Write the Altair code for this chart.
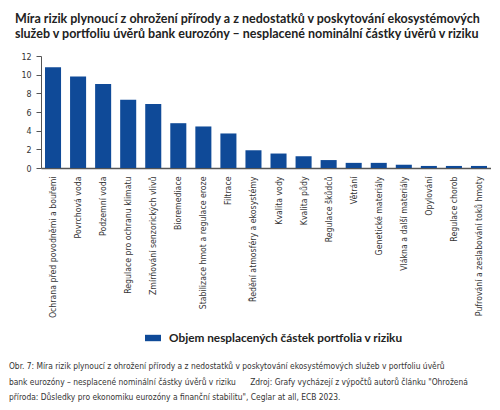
import altair as alt
import pandas as pd

categories = [
    "Ochrana před povodněmi a bouřemi",
    "Povrchová voda",
    "Podzemní voda",
    "Regulace pro ochranu klimatu",
    "Zmírňování senzorických vlivů",
    "Bioremediace",
    "Stabilizace hmot a regulace eroze",
    "Filtrace",
    "Ředění atmosféry a ekosystémy",
    "Kvalita vody",
    "Kvalita půdy",
    "Regulace škůdců",
    "Větrání",
    "Genetické materiály",
    "Vlákna a další materiály",
    "Opylování",
    "Regulace chorob",
    "Pufrování a zeslabování toků hmoty",
]
values = [10.8, 9.8, 9.0, 7.3, 6.85, 4.8, 4.45, 3.7, 1.9, 1.55, 1.25, 0.85,
          0.55, 0.55, 0.35, 0.22, 0.22, 0.22]
series_name = "Objem nesplacených částek portfolia v riziku"
y_ticks = [0, 2, 4, 6, 8, 10, 12]

header = [
    "Míra rizik plynoucí z ohrožení přírody a z nedostatků v poskytování ekosystémových",
    "služeb v portfoliu úvěrů bank eurozóny – nesplacené nominální částky úvěrů v riziku",
]
footer = [
    "Obr. 7: Míra rizik plynoucí z ohrožení přírody a z nedostatků v poskytování ekosystémových služeb v portfoliu úvěrů",
    "bank eurozóny – nesplacené nominální částky úvěrů v riziku\u00a0\u00a0\u00a0\u00a0\u00a0\u00a0Zdroj: Grafy vycházejí z výpočtů autorů článku \"Ohrožená",
    "příroda: Důsledky pro ekonomiku eurozóny a finanční stabilitu\", Ceglar at all, ECB 2023.",
]

df = pd.DataFrame({"kategorie": categories, "hodnota": values, "serie": series_name})

NARROW = "Liberation Sans Narrow, DejaVu Sans Condensed, sans-serif"
BLUE = "#0f4a98"

main = alt.Chart(df).mark_bar().encode(
    x=alt.X("kategorie:N", sort=categories,
            scale=alt.Scale(paddingInner=0.36, paddingOuter=0.16),
            axis=alt.Axis(title=None, labelAngle=-90, ticks=False, labelPadding=8,
                          labelFont=NARROW, labelFontSize=8.7, labelColor="#333333",
                          labelLimit=300, domainColor="#555555", domainWidth=1.5,
                          labelBaseline="middle", labelAlign="right")),
    y=alt.Y("hodnota:Q", scale=alt.Scale(domain=[0, 12], nice=False),
            axis=alt.Axis(title=None, values=y_ticks, grid=False, tickSize=5,
                          labelPadding=5, labelFont=NARROW, labelFontSize=8.8,
                          labelColor="#333333", domainColor="#555555",
                          tickColor="#555555")),
    color=alt.Color("serie:N", scale=alt.Scale(domain=[series_name], range=[BLUE]),
                    legend=alt.Legend(title=None, orient="none", legendX=104, legendY=274,
                                      direction="horizontal",
                                      symbolType="M-1,-0.4L1,-0.4L1,0.4L-1,0.4Z",
                                      symbolSize=256, symbolStrokeWidth=0,
                                      labelFont="Lato", labelFontSize=11.8,
                                      labelFontWeight="bold", labelColor="#222222",
                                      labelLimit=400, labelOffset=8)),
).properties(
    width=450, height=112,
    title=alt.TitleParams(header, anchor="start", font="Lato", fontSize=12.5,
                          fontWeight="bold", color="#222222", lineHeight=15,
                          offset=12, dx=-6),
)

chart = alt.vconcat(main).properties(
    title=alt.TitleParams(footer, orient="bottom", anchor="start", font=NARROW,
                          fontSize=8.4, fontWeight="normal", color="#333333",
                          lineHeight=15.5, offset=17, dx=-6),
    padding={"left": 0, "top": 4, "right": 0, "bottom": 0},
).configure_view(stroke=None)

chart.save("out.html", embed_options={"renderer": "svg", "actions": False})
